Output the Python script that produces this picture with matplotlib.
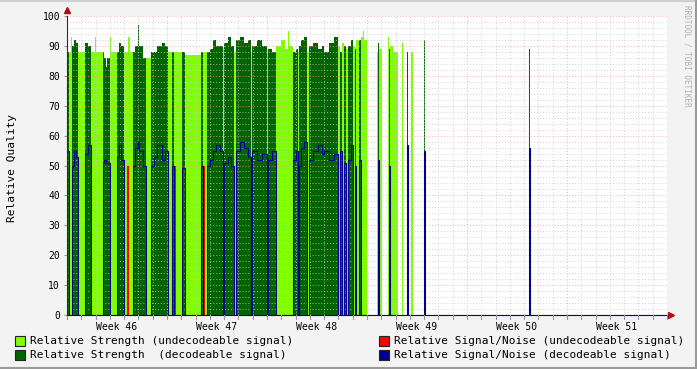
import numpy as np
import matplotlib.pyplot as plt
from matplotlib.patches import Rectangle

# RRD samples: one consolidated step = 42 days / 600 columns
step_days = 42.0 / 600

# segments: start sample, kind (U undecodeable, D decodeable, R undecodeable with SNR, N none),
# relative strength, relative signal/noise
seg_start = [0, 2, 4, 5, 7, 9, 11, 18, 21, 24, 28, 29, 36, 37, 39, 40, 43, 44,
             50, 52, 54, 57, 60, 61, 63, 66, 68, 71, 72, 76, 79, 84, 87, 90, 95,
             98, 101, 105, 107, 108, 115, 118, 134, 136, 137, 140, 143, 146, 149,
             153, 156, 157, 161, 164, 167, 169, 173, 177, 181, 184, 185, 190, 195,
             200, 201, 205, 209, 214, 218, 221, 222, 226, 229, 231, 232, 234, 237,
             240, 242, 246, 251, 255, 257, 262, 267, 271, 273, 275, 277, 279, 281,
             284, 286, 288, 289, 292, 294, 296, 297, 300,
             310, 311, 312, 315, 321, 322, 323, 326, 331, 335, 336, 340, 341, 344,
             346, 357, 358, 462, 463]
seg_kind = ("DUUDDDUDDUUUDDDDUU"
            "DDDURUUDDDDDUDDDD"
            "DUDRUDUDRUDDDD"
            "DUDDDUDDDDUDDD"
            "UDDUUUUUDDUDDD"
            "UDDDDDDDUDUDUD"
            "DUDUDUUUN"
            "UDUNUDUUNUNDNUNDNDN")
seg_strength = [88, 88, 93, 90, 92, 91, 88, 91, 90, 88, 93, 88, 88, 86, 83, 86, 93, 88,
                88, 91, 90, 88, 88, 93, 88, 88, 90, 97, 90, 86, 86, 88, 88, 90, 91,
                90, 88, 88, 88, 88, 88, 87, 88, 88, 88, 88, 89, 92, 90,
                90, 89, 91, 93, 90, 88, 92, 93, 91, 92, 88, 90, 92, 90,
                88, 89, 88, 90, 92, 89, 95, 90, 88, 89, 88, 90, 92, 93,
                88, 90, 91, 89, 90, 88, 91, 93, 90, 88, 91, 90, 89, 90,
                92, 90, 89, 92, 92, 93, 95, 92, 0,
                88, 91, 89, 0, 93, 89, 90, 88, 0, 91, 0, 88, 0, 88,
                0, 92, 0, 89, 0]
seg_snr = [55, 0, 0, 50, 55, 53, 0, 54, 57, 0, 0, 0, 51, 52, 51, 51, 0, 0,
           53, 57, 52, 0, 50, 0, 0, 50, 56, 58, 55, 50, 0, 50, 53, 57, 52,
           55, 0, 50, 50, 0, 49, 0, 50, 50, 0, 50, 52, 55, 57,
           55, 0, 51, 53, 50, 0, 55, 58, 56, 53, 0, 55, 52, 54,
           0, 52, 55, 0, 0, 0, 0, 0, 52, 55, 0, 50, 56, 58,
           0, 52, 55, 57, 54, 55, 52, 54, 0, 55, 0, 51, 0, 52,
           57, 0, 50, 0, 52, 0, 0, 0, 0,
           0, 52, 0, 0, 0, 50, 0, 0, 0, 0, 0, 57, 0, 0,
           0, 55, 0, 56, 0]
n_samples = 600

week_labels = ["Week 46", "Week 47", "Week 48", "Week 49", "Week 50", "Week 51"]

# step arrays
edges = np.array(seg_start + [n_samples]) * step_days
kind = np.array(list(seg_kind))
strength = np.array(seg_strength, dtype=float)
snr = np.array(seg_snr, dtype=float)

undec = np.where((kind == "U") | (kind == "R"), strength, 0.0)
dec = np.where(kind == "D", strength, 0.0)
snr_u = np.where(kind == "R", snr, 0.0)
snr_d = np.where(kind == "D", snr, 0.0)

def ext(a):
    return np.append(a, a[-1])

fig = plt.figure(figsize=(6.97, 3.69), dpi=100)
fig.patch.set_facecolor("#f3f3f3")
ax = fig.add_axes([67 / 697, 54 / 369, 600 / 697, 299 / 369])
ax.set_facecolor("white")

c_light, c_dark, c_red, c_blue = "#7fff00", "#006400", "#ff0000", "#000090"

ax.fill_between(edges, 0, ext(undec), step="post", color=c_light, lw=0,
                antialiased=False, zorder=2)
ax.fill_between(edges, 0, ext(dec), step="post", color=c_dark, lw=0,
                antialiased=False, zorder=3)
ax.step(edges, ext(snr_u), where="post", color=c_red, lw=0.75, zorder=5)
ax.step(edges, ext(snr_d), where="post", color=c_blue, lw=0.75, zorder=6)

ax.set_xlim(0, 42)
ax.set_ylim(0, 100)

# grid over the areas, below the lines
for d in range(1, 42):
    col = "#ff9999" if d % 7 == 0 else "#c8c8c8"
    ax.axvline(d, color=col, lw=0.7, ls=(0, (1, 2)), zorder=4, alpha=0.8)
for v in range(2, 101, 2):
    col = "#ff9999" if v % 10 == 0 else "#c8c8c8"
    ax.axhline(v, color=col, lw=0.7, ls=(0, (1, 2)), zorder=4, alpha=0.8)

mono = "DejaVu Sans Mono"
ax.set_yticks(range(0, 101, 10))
ax.set_yticklabels([str(v) for v in range(0, 101, 10)], family=mono, fontsize=7)
ax.set_xticks([3.5 + 7 * i for i in range(6)])
ax.set_xticklabels(week_labels, family=mono, fontsize=7)
ax.tick_params(axis="both", length=2, width=0.8, color="#999999", pad=3)
ax.tick_params(axis="x", length=0, pad=5)
for d in range(0, 43):
    ax.plot([d, d], [-1.2, 0], color="#ff6666" if d % 7 == 0 else "#999999",
            lw=0.8, clip_on=False, zorder=7)

for s in ["top", "right"]:
    ax.spines[s].set_visible(False)
ax.spines["left"].set_color("#4a2020")
ax.spines["bottom"].set_color(c_blue)
ax.spines["left"].set_zorder(8)
ax.plot([0], [102], marker="^", color="#aa1111", ms=4, clip_on=False, zorder=9)
ax.plot([42.3], [0], marker=">", color="#aa1111", ms=4, clip_on=False, zorder=9)

fig.text(12 / 697, 1 - 168 / 369, "Relative Quality", rotation=90, family=mono,
         fontsize=8, ha="center", va="center")
fig.text(687 / 697, 1 - 5 / 369, "RRDTOOL / TOBI OETIKER", rotation=270,
         family=mono, fontsize=5.5, color="#b0b0b0", ha="center", va="top")

legend_items = [
    (15, 341, c_light, "Relative Strength (undecodeable signal)"),
    (15, 355, c_dark, "Relative Strength  (decodeable signal)"),
    (379, 341, c_red, "Relative Signal/Noise (undecodeable signal)"),
    (379, 355, c_blue, "Relative Signal/Noise (decodeable signal)"),
]
for x, y, col, label in legend_items:
    fig.patches.append(Rectangle((x / 697, 1 - (y + 5) / 369), 10 / 697, 10 / 369,
                                 transform=fig.transFigure, facecolor=col,
                                 edgecolor="#222222", lw=0.8))
    fig.text((x + 15) / 697, 1 - y / 369, label, family=mono, fontsize=8,
             ha="left", va="center")

# frame shading
fig.add_artist(plt.Line2D([0, 1], [1 - 1 / 369, 1 - 1 / 369], color="#d0d0d0", lw=1.5))
fig.add_artist(plt.Line2D([1 - 1 / 697, 1 - 1 / 697], [0, 1], color="#9a9a9a", lw=1.5))
fig.add_artist(plt.Line2D([0, 1], [1 / 369, 1 / 369], color="#9a9a9a", lw=1.5))

fig.savefig("out.png", dpi=100, facecolor=fig.get_facecolor())
